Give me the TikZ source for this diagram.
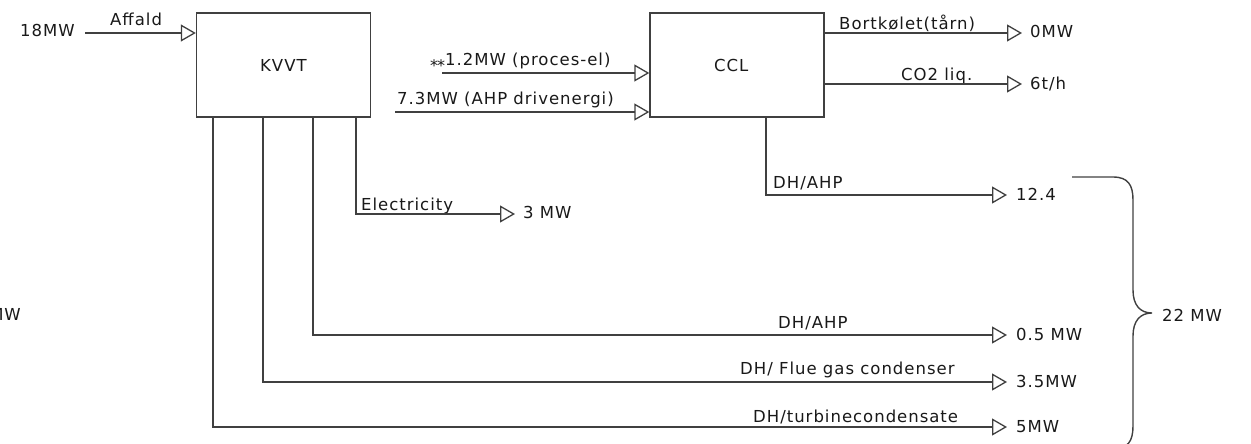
\documentclass[tikz,border=0pt]{standalone}
\usepackage{fontspec}
\setmainfont{DejaVu Sans}[LetterSpace=6]
\usetikzlibrary{arrows.meta}
\begin{document}
\begin{tikzpicture}[x=1pt,y=-1pt,
  ln/.style={draw=black!75, line width=1.4pt},
  flow/.style={ln, -{Triangle[open,length=15pt,width=17pt,line width=1.3pt]}},
  box/.style={ln, rectangle, inner sep=0pt, minimum width=174pt, minimum height=104pt},
  lbl/.style={inner sep=0pt, anchor=base west, text=black!90, font=\fontsize{16.5}{20}\selectfont}]
\clip (0,0) rectangle (1251,444);
% boxes
\node[box] (kvvt) at (283.5,65) {};
\node[lbl] (kvvtl) at (260,71) {KVVT};
\node[box] (ccl) at (737,65) {};
\node[lbl] (ccll) at (714,71) {CCL};
% texts
\node[lbl] (t18) at (20,37) {18MW};
\node[lbl] (taff) at (110,26) {Affald};
\node[lbl] (tpe) at (430,66) {{\fontsize{16}{16}\selectfont\raisebox{-6pt}{*\kern-1pt*}}1.2MW (proces-el)};
\node[lbl] (tahp) at (397,105) {7.3MW (AHP drivenergi)};
\node[lbl] (tbort) at (839,30) {Bortkølet(tårn)};
\node[lbl] (t0mw) at (1030,38) {0MW};
\node[lbl] (tco2) at (901,81) {CO2 liq.};
\node[lbl] (t6th) at (1030,90) {6t/h};
\node[lbl] (tel) at (361,210) {Electricity};
\node[lbl] (t3mw) at (523,218) {3 MW};
\node[lbl] (tdh1) at (773,188) {DH/AHP};
\node[lbl] (t124) at (1016,200) {12.4};
\node[lbl] (tdh2) at (778,328) {DH/AHP};
\node[lbl] (t05) at (1016,340) {0.5 MW};
\node[lbl] (tdh3) at (740,374) {DH/ Flue gas condenser};
\node[lbl] (t35) at (1016,387) {3.5MW};
\node[lbl] (tdh4) at (753,422) {DH/turbinecondensate};
\node[lbl] (t5) at (1016,432) {5MW};
\node[lbl] (t22) at (1162,321) {22 MW};
\node[lbl, anchor=base east] (tcut) at (21,320) {MW};
% coordinates
\coordinate (aff0) at (85,33);
\coordinate (k1) at (213,117);
\coordinate (k2) at (263,117);
\coordinate (k3) at (313,117);
\coordinate (k4) at (356,117);
\coordinate (c1) at (766,117);
\coordinate (e5) at (1007,427);
\coordinate (e35) at (1007,382);
\coordinate (e05) at (1007,335);
\coordinate (e124) at (1007,195);
\coordinate (eel) at (515,214);
\coordinate (s12) at (442,73);
\coordinate (s73) at (395,112);
\coordinate (eb) at (1022,33);
\coordinate (ec) at (1022,84);
% connectors
\draw[flow] (aff0) -- (aff0 -| kvvt.west);
\draw[flow] (k1) |- (e5);
\draw[flow] (k2) |- (e35);
\draw[flow] (k3) |- (e05);
\draw[flow] (k4) |- (eel);
\draw[flow] (c1) |- (e124);
\draw[flow] (s12) -- (s12 -| ccl.west);
\draw[flow] (s73) -- (s73 -| ccl.west);
\draw[flow] (eb -| ccl.east) -- (eb);
\draw[flow] (ec -| ccl.east) -- (ec);
% brace
\draw[ln] (1072,177) -- (1113,177) .. controls (1128,177) and (1133,185) .. (1133,200)
  -- (1133,290) .. controls (1133,305) and (1140,313) .. (1152,313)
  .. controls (1140,313) and (1133,321) .. (1133,336)
  -- (1133,426) .. controls (1133,441) and (1128,449) .. (1113,449) -- (1072,449);
\end{tikzpicture}
\end{document}
